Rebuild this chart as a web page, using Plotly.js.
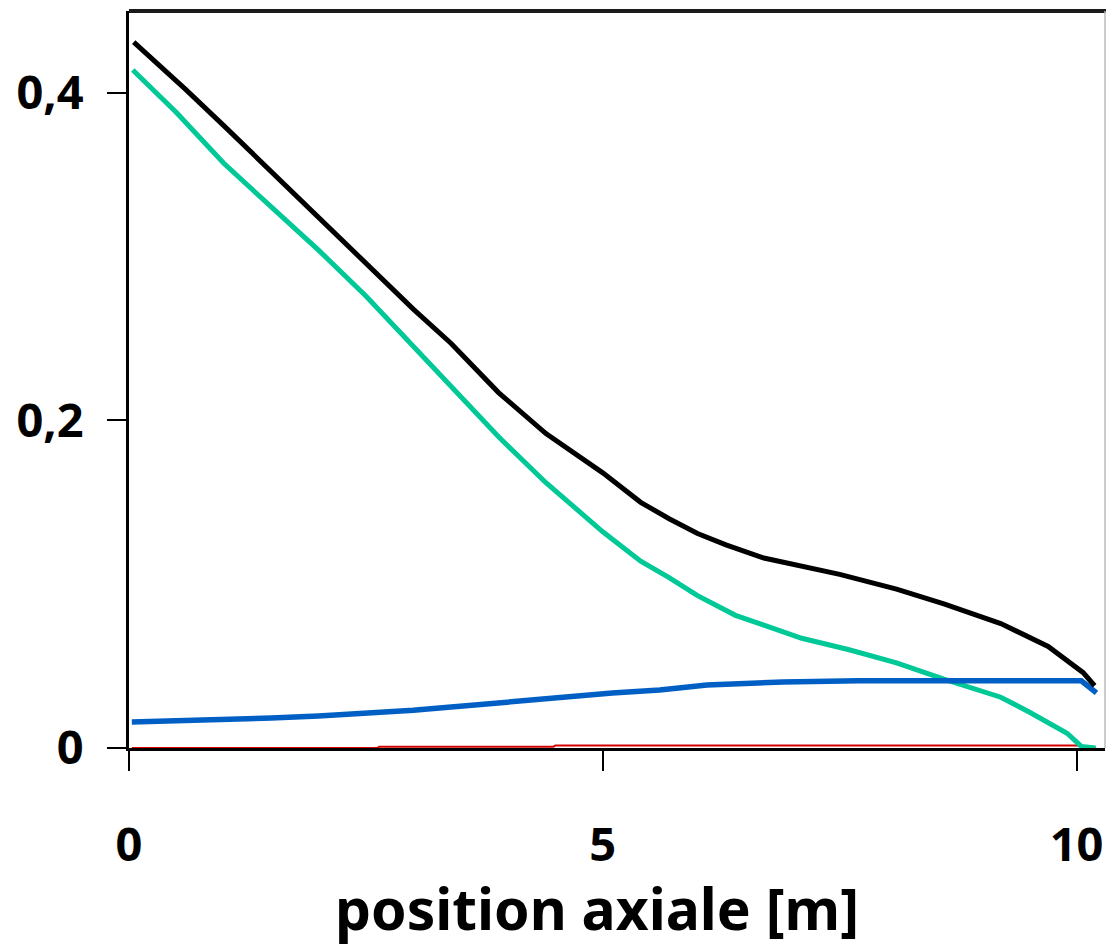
<!DOCTYPE html>
<html>
<head>
<meta charset="utf-8">
<script src="https://cdn.plot.ly/plotly-3.0.1.min.js"></script>
<style>html,body{margin:0;padding:0;background:#fff;}#chart{width:1106px;height:948px;}</style>
</head>
<body>
<div id="chart"></div>
<script>
// Black curve (total)
const blackX = [0.05, 0.3, 0.6, 1.0, 1.5, 2.0, 2.5, 3.0, 3.4, 3.9, 4.4, 5.0, 5.4, 5.7, 6.0, 6.3, 6.7, 7.1, 7.5, 8.1, 8.6, 9.2, 9.7, 10.07, 10.19];
const blackY = [0.431, 0.418, 0.402, 0.380, 0.352, 0.324, 0.295, 0.268, 0.247, 0.217, 0.192, 0.168, 0.150, 0.140, 0.131, 0.124, 0.116, 0.111, 0.106, 0.097, 0.088, 0.076, 0.062, 0.046, 0.038];
// Green curve
const greenX = [0.04, 0.5, 1.0, 1.5, 2.0, 2.5, 3.0, 3.5, 3.9, 4.4, 5.0, 5.4, 5.7, 6.0, 6.4, 6.7, 7.1, 7.6, 8.1, 8.6, 9.2, 9.5, 9.9, 10.05, 10.2];
const greenY = [0.414, 0.388, 0.357, 0.331, 0.304, 0.276, 0.245, 0.214, 0.190, 0.162, 0.132, 0.114, 0.104, 0.093, 0.081, 0.075, 0.067, 0.060, 0.052, 0.042, 0.031, 0.022, 0.009, 0.001, 0.000];
// Blue curve
const blueX = [0.03, 0.95, 1.5, 2.0, 2.6, 3.0, 3.4, 3.8, 4.1, 4.5, 5.1, 5.6, 6.1, 6.9, 7.7, 10.05, 10.21];
const blueY = [0.0159, 0.0170, 0.0183, 0.0195, 0.0214, 0.0230, 0.0250, 0.0270, 0.0287, 0.0310, 0.0336, 0.0354, 0.0385, 0.0403, 0.0410, 0.0410, 0.0336];
// Red curve
const redX = [0.03, 2.62, 2.64, 4.48, 4.50, 10.0, 10.2];
const redY = [0.0, 0.0, 0.0008, 0.0008, 0.0016, 0.0016, 0.0004];

const xTickVals = [0, 5, 10];
const xTickText = ['0', '5', '10'];
const yTickVals = [0, 0.2, 0.4];
const yTickText = ['0', '0,2', '0,4'];
const xTitle = 'position axiale [m]';

const FONT = 'Noto Sans, DejaVu Sans, sans-serif';

const traces = [
  {x: redX, y: redY, mode: 'lines', line: {color: '#d40000', width: 2}, hoverinfo: 'skip'},
  {x: greenX, y: greenY, mode: 'lines', line: {color: '#00c896', width: 5}, hoverinfo: 'skip'},
  {x: blueX, y: blueY, mode: 'lines', line: {color: '#005fc4', width: 5.5}, hoverinfo: 'skip'},
  {x: blackX, y: blackY, mode: 'lines', line: {color: '#000000', width: 5}, hoverinfo: 'skip'}
];

const layout = {
  width: 1106, height: 948,
  margin: {l: 129, r: 1, t: 11, b: 200},
  paper_bgcolor: '#fff', plot_bgcolor: '#fff',
  showlegend: false,
  font: {family: FONT, color: '#000', weight: 'bold'},
  xaxis: {
    range: [0, 10.3], showgrid: false, zeroline: false,
    showline: true, linecolor: '#000', linewidth: 3,
    ticks: 'outside', ticklen: 20, tickwidth: 2, tickcolor: '#000',
    tickmode: 'array', tickvals: xTickVals, ticktext: xTickText,
    tickfont: {family: FONT, size: 47, color: '#000', weight: 'bold'},
    ticklabelstandoff: 34
  },
  yaxis: {
    range: [0, 0.45], showgrid: false, zeroline: false,
    showline: true, linecolor: '#000', linewidth: 3,
    ticks: 'outside', ticklen: 19, tickwidth: 2, tickcolor: '#000',
    tickmode: 'array', tickvals: yTickVals, ticktext: yTickText,
    tickfont: {family: FONT, size: 47, color: '#000', weight: 'bold'},
    ticklabelstandoff: 14
  },
  shapes: [
    {type: 'line', xref: 'paper', yref: 'paper', x0: 0, x1: 1.01, y0: 1, y1: 1, line: {color: '#1a1a1a', width: 4}},
    {type: 'line', xref: 'paper', yref: 'paper', x0: 1, x1: 1, y0: 0, y1: 1, line: {color: '#bbbbbb', width: 1.5}}
  ],
  annotations: [
    {text: xTitle, xref: 'paper', yref: 'paper', x: 0.48, y: 0, yshift: -160, xanchor: 'center', yanchor: 'middle', showarrow: false,
     font: {family: FONT, size: 57, color: '#000', weight: 'bold'}}
  ]
};

Plotly.newPlot('chart', traces, layout, {displayModeBar: false, staticPlot: true});
</script>
</body>
</html>
